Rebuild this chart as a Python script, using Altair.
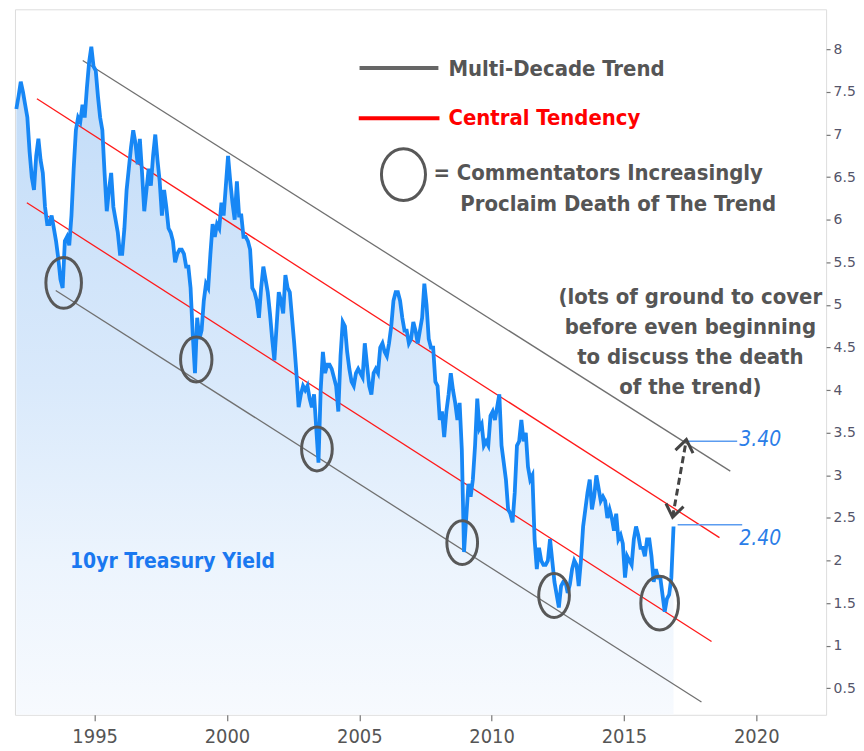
import altair as alt
import pandas as pd

# ---------------- data ----------------
start_year = 1992
# month-by-month 10yr yield, one row per year (1992 .. Nov 2016)
ten_year_yield = [
    7.30, 7.45, 7.62, 7.50, 7.35, 7.20, 6.80, 6.50, 6.35, 6.75, 6.95, 6.70,   # 1992
    6.55, 6.15, 5.95, 5.95, 6.05, 5.90, 5.75, 5.55, 5.30, 5.20, 5.75, 5.80,   # 1993
    5.70, 6.05, 6.60, 7.05, 7.20, 7.15, 7.35, 7.20, 7.55, 7.85, 8.03, 7.80,   # 1994
    7.75, 7.45, 7.20, 7.05, 6.55, 6.10, 6.35, 6.55, 6.15, 6.00, 5.85, 5.60,   # 1995
    5.60, 5.90, 6.35, 6.60, 6.85, 7.05, 6.90, 6.65, 6.95, 6.55, 6.10, 6.35,   # 1996
    6.60, 6.40, 6.75, 7.00, 6.70, 6.45, 6.05, 6.35, 6.15, 5.90, 5.85, 5.75,   # 1997
    5.50, 5.60, 5.65, 5.65, 5.60, 5.45, 5.45, 5.20, 4.65, 4.20, 4.85, 4.60,   # 1998
    4.70, 5.05, 5.25, 5.20, 5.60, 5.95, 5.80, 5.95, 5.90, 6.20, 6.05, 6.40,   # 1999
    6.75, 6.45, 6.20, 6.00, 6.45, 6.05, 6.05, 5.80, 5.80, 5.75, 5.65, 5.20,   # 2000
    5.15, 5.05, 4.85, 5.20, 5.45, 5.30, 5.15, 4.90, 4.60, 4.35, 4.75, 5.15,   # 2001
    5.05, 4.90, 5.35, 5.20, 5.15, 4.85, 4.55, 4.20, 3.80, 3.95, 4.05, 4.00,   # 2002
    4.05, 3.90, 3.80, 3.95, 3.55, 3.15, 4.00, 4.45, 4.20, 4.30, 4.30, 4.25,   # 2003
    4.15, 4.05, 3.75, 4.40, 4.80, 4.75, 4.45, 4.25, 4.10, 4.05, 4.20, 4.25,   # 2004
    4.20, 4.15, 4.55, 4.30, 4.05, 3.95, 4.20, 4.25, 4.20, 4.50, 4.55, 4.45,   # 2005
    4.40, 4.55, 4.75, 5.05, 5.15, 5.15, 5.05, 4.85, 4.70, 4.70, 4.55, 4.60,   # 2006
    4.80, 4.70, 4.55, 4.70, 4.85, 5.25, 5.00, 4.60, 4.50, 4.50, 4.10, 4.05,   # 2007
    3.65, 3.75, 3.45, 3.75, 3.95, 4.20, 4.00, 3.85, 3.65, 3.85, 3.30, 2.10,   # 2008
    2.50, 2.90, 2.75, 2.95, 3.35, 3.90, 3.55, 3.60, 3.35, 3.40, 3.35, 3.70,   # 2009
    3.75, 3.65, 3.80, 3.95, 3.35, 3.15, 2.95, 2.60, 2.55, 2.45, 2.80, 3.35,   # 2010
    3.40, 3.65, 3.40, 3.50, 3.10, 2.95, 3.00, 2.25, 1.90, 2.15, 2.00, 1.95,   # 2011
    1.95, 2.00, 2.25, 2.00, 1.75, 1.60, 1.45, 1.70, 1.75, 1.75, 1.62, 1.72,   # 2012
    1.90, 2.00, 1.95, 1.70, 2.00, 2.40, 2.60, 2.80, 2.95, 2.60, 2.75, 3.00,   # 2013
    2.85, 2.70, 2.75, 2.70, 2.50, 2.60, 2.50, 2.35, 2.55, 2.25, 2.30, 2.20,   # 2014
    1.80, 2.05, 2.00, 1.95, 2.25, 2.40, 2.30, 2.15, 2.15, 2.05, 2.25, 2.25,   # 2015
    2.05, 1.75, 1.90, 1.80, 1.80, 1.60, 1.40, 1.55, 1.60, 1.80, 2.40,         # 2016
]

x_domain = [1991.99, 2022.64]
y_domain = [0.19, 8.47]
x_ticks = [1995, 2000, 2005, 2010, 2015, 2020]
y_ticks = [0.5, 1, 1.5, 2, 2.5, 3, 3.5, 4, 4.5, 5, 5.5, 6, 6.5, 7, 7.5, 8]

# trend channel lines (start year, start value, end year, end value)
trend_names = ["upper trend", "upper central", "lower central", "lower trend"]
trend_x1 = [1994.55, 1992.82, 1992.44, 1993.53]
trend_y1 = [7.87, 7.42, 6.20, 5.17]
trend_x2 = [2019.02, 2018.61, 2018.31, 2017.93]
trend_y2 = [3.05, 2.27, 1.05, 0.34]
trend_colors = ["#707070", "#ff1a1a", "#ff1a1a", "#707070"]

# circled lows (year, value, ellipse height)
circle_x = [1993.83, 1998.84, 2003.40, 2008.89, 2012.36, 2016.35]
circle_y = [5.26, 4.36, 3.31, 2.21, 1.59, 1.50]
circle_h = [51, 45, 44, 44, 44, 54]

# legend
legend_line_x1 = [2005.01, 2004.98]
legend_line_x2 = [2007.99, 2008.03]
legend_line_y = [7.78, 7.19]
legend_line_colors = ["#666666", "#ff0000"]
legend_circle = {"x": 2006.67, "y": 6.53, "h": 52}

# distance arrow and the two levels
arrow_x = [2016.84, 2017.36]
arrow_y = [2.51, 3.42]
level_values = [3.40, 2.42]
level_x1 = [2017.40, 2017.03]
level_x2 = [2019.28, 2019.47]
level_labels = ["3.40", "2.40"]
level_label_y = [3.41, 2.25]
level_label_x = 2019.36

note_lines = ["(lots of ground to cover", "before even beginning",
              "to discuss the death", "of the trend)"]
note_y = [5.09, 4.74, 4.39, 4.04]
note_x = 2017.51

# ---------------- build tables ----------------
n = len(ten_year_yield)
series = pd.DataFrame({
    "x": [start_year + (i + 0.5) / 12 for i in range(n)],
    "y": ten_year_yield,
})
series["base"] = y_domain[0]

trends = pd.DataFrame({"name": trend_names, "x": trend_x1, "y": trend_y1,
                       "x2": trend_x2, "y2": trend_y2, "c": trend_colors})
circles = pd.DataFrame({"x": circle_x, "y": circle_y,
                        "s": [h * h for h in circle_h]})
leg_lines = pd.DataFrame({"x": legend_line_x1, "x2": legend_line_x2,
                          "y": legend_line_y, "c": legend_line_colors})
leg_circle = pd.DataFrame({"x": [legend_circle["x"]], "y": [legend_circle["y"]],
                           "s": [legend_circle["h"] ** 2]})
arrow = pd.DataFrame({"x": [arrow_x[0]], "y": [arrow_y[0]],
                      "x2": [arrow_x[1]], "y2": [arrow_y[1]]})
heads = pd.DataFrame({"x": arrow_x, "y": arrow_y, "a": [190, 10]})
levels = pd.DataFrame({"x": level_x1, "x2": level_x2, "y": level_values})
level_text = pd.DataFrame({"x": [level_label_x] * 2, "y": level_label_y,
                           "t": level_labels})
notes = pd.DataFrame({"x": [note_x] * 4, "y": note_y, "t": note_lines})

COND = "DejaVu Sans Condensed, Liberation Sans Narrow, Arial Narrow, sans-serif"


def ellipse_path(r):
    k = 0.5523
    return (f"M {r} 0 C {r} {k} {r*k:.4f} 1 0 1 C {-r*k:.4f} 1 {-r} {k} {-r} 0 "
            f"C {-r} {-k} {-r*k:.4f} -1 0 -1 C {r*k:.4f} -1 {r} {-k} {r} 0 Z")


xs = alt.Scale(domain=x_domain, nice=False, zero=False)
ys = alt.Scale(domain=y_domain, nice=False, zero=False)


def X(f="x"):
    return alt.X(f"{f}:Q", scale=xs, title=None,
                 axis=alt.Axis(values=x_ticks, format="d", grid=False, domain=False,
                               tickColor="#777777", tickSize=6, tickWidth=1.2,
                               labelFont=COND, labelFontSize=20, labelColor="#555555",
                               labelPadding=6))


def Y(f="y"):
    return alt.Y(f"{f}:Q", scale=ys, title=None,
                 axis=alt.Axis(values=y_ticks, format="~g", orient="right", grid=False,
                               domain=False, tickColor="#777777", tickSize=4,
                               tickWidth=1.2, labelFont="DejaVu Sans", labelFontSize=14,
                               labelColor="#55556a", labelPadding=3))


area = alt.Chart(series).mark_area(
    clip=True,
    color=alt.Gradient(gradient="linear", x1=0, x2=0, y1=0, y2=1, stops=[
        alt.GradientStop(offset=0, color="#c0dbf8"),
        alt.GradientStop(offset=0.5, color="#d9e9fb"),
        alt.GradientStop(offset=0.77, color="#ecf4fd"),
        alt.GradientStop(offset=1, color="#f7fafe"),
    ])
).encode(x=X(), y=Y(), y2="base:Q")

trend_rules = alt.Chart(trends).mark_rule(strokeWidth=1.3).encode(
    x=X(), y=Y(), x2="x2:Q", y2="y2:Q", color=alt.Color("c:N", scale=None))

line = alt.Chart(series).mark_line(color="#1787f5", strokeWidth=3.8).encode(x=X(), y=Y())

circle_marks = alt.Chart(circles).mark_point(
    shape=ellipse_path(0.7), filled=False, stroke="#585858", strokeWidth=3, opacity=1
).encode(x=X(), y=Y(), size=alt.Size("s:Q", scale=None))

leg_rules = alt.Chart(leg_lines).mark_rule(strokeWidth=4).encode(
    x=X(), x2="x2:Q", y=Y(), color=alt.Color("c:N", scale=None))

leg_circ = alt.Chart(leg_circle).mark_point(
    shape=ellipse_path(0.85), filled=False, stroke="#585858", strokeWidth=3, opacity=1
).encode(x=X(), y=Y(), size=alt.Size("s:Q", scale=None))

legend_text = alt.Chart(pd.DataFrame({
    "x": [2008.37, 2008.37, 2007.80, 2008.82],
    "y": [7.77, 7.19, 6.55, 6.19],
    "t": ["Multi-Decade Trend", "Central Tendency",
          "= Commentators Increasingly", "Proclaim Death of The Trend"],
    "c": ["#555555", "#ff0000", "#555555", "#555555"],
})).mark_text(align="left", baseline="middle", font=COND, fontSize=22,
              fontWeight="bold").encode(
    x=X(), y=Y(), text="t:N", color=alt.Color("c:N", scale=None))

note_text = alt.Chart(notes).mark_text(
    align="center", baseline="middle", font=COND, fontSize=22, fontWeight="bold",
    color="#555555").encode(x=X(), y=Y(), text="t:N")

series_label = alt.Chart(pd.DataFrame({"x": [1997.94], "y": [1.98],
                                       "t": ["10yr Treasury Yield"]})).mark_text(
    align="center", baseline="middle", font=COND, fontSize=21, fontWeight="bold",
    color="#1a78f0").encode(x=X(), y=Y(), text="t:N")

arrow_rule = alt.Chart(arrow).mark_rule(
    strokeWidth=3, strokeDash=[7, 4], color="#444444").encode(
    x=X(), y=Y(), x2="x2:Q", y2="y2:Q")

arrow_heads = alt.Chart(heads).mark_point(
    shape="M -0.8 1.1 L 0 0 L 0.8 1.1", filled=False, stroke="#444444",
    strokeWidth=3, size=500, opacity=1).encode(
    x=X(), y=Y(), angle=alt.Angle("a:Q", scale=None))

level_rules = alt.Chart(levels).mark_rule(strokeWidth=1.5, color="#5b9cf0").encode(
    x=X(), x2="x2:Q", y=Y())

level_labels_m = alt.Chart(level_text).mark_text(
    align="left", baseline="middle", font=COND, fontSize=21, fontStyle="italic",
    color="#2a7de8").encode(x=X(), y=Y(), text="t:N")

chart = alt.layer(
    area, trend_rules, line, circle_marks, leg_rules, leg_circ, legend_text,
    note_text, series_label, level_rules, arrow_rule, arrow_heads, level_labels_m
).properties(width=814, height=708, padding=0).configure_view(
    stroke="#8a8a8a", strokeWidth=1.5
).configure(background="white")

chart.save("out.html", embed_options={"renderer": "svg", "actions": False})
